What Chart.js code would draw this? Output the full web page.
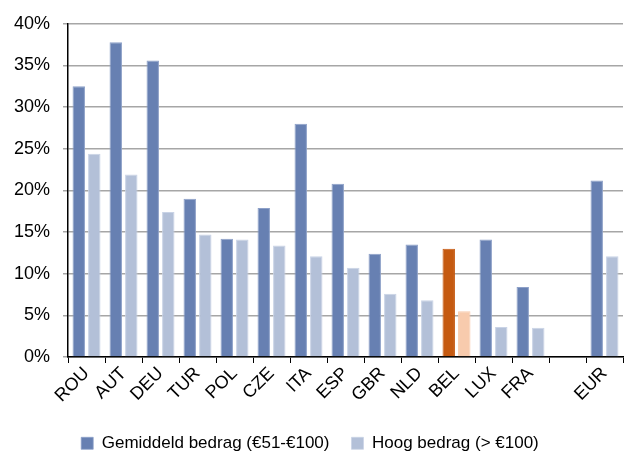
<!DOCTYPE html>
<html>
<head>
<meta charset="utf-8">
<script src="https://cdn.jsdelivr.net/npm/chart.js@4"></script>
<style>
  html, body { margin: 0; padding: 0; background: #fff; }
  #wrap { width: 625px; height: 457px; }
</style>
</head>
<body>
<div id="wrap"><canvas id="chart"></canvas></div>
<script>
const countries = ['ROU', 'AUT', 'DEU', 'TUR', 'POL', 'CZE', 'ITA', 'ESP', 'GBR', 'NLD', 'BEL', 'LUX', 'FRA', '', 'EUR']
const gemiddeld = [32.5, 37.8, 35.6, 19.0, 14.2, 17.9, 28.0, 20.8, 12.4, 13.5, 13.0, 14.1, 8.4, null, 21.2]
const hoog = [24.4, 21.9, 17.4, 14.7, 14.1, 13.4, 12.1, 10.7, 7.6, 6.8, 5.5, 3.6, 3.5, null, 12.1]
const yTicks = [0, 5, 10, 15, 20, 25, 30, 35, 40]

const dark = '#6780B2'
const light = '#B3C0D8'
const highlight = 'BEL'

const colorsFor = (base, accent) => countries.map(c => c == highlight ? accent : base)

const ctx = document.getElementById('chart').getContext('2d')
const tickFont = { family: 'Liberation Sans, Arial, sans-serif', size: 18 }
const legendFont = { family: 'Liberation Sans, Arial, sans-serif', size: 17 }

// plot bottom sits at y=357 in the original, legend row near y=444
const PLOT_BOTTOM = 357
const LEGEND_CENTER = 444

new Chart(ctx, {
  type: 'bar',
  data: {
    labels: countries,
    datasets: [
      {
        label: 'Gemiddeld bedrag (€51-€100)',
        data: gemiddeld,
        backgroundColor: colorsFor(dark, '#C55A11'),
        borderColor: colorsFor('#8DA0C8', '#C55A11'),
        borderWidth: { top: 1, left: 1, right: 1, bottom: 0 },
        categoryPercentage: 0.84,
        barPercentage: 0.8
      },
      {
        label: 'Hoog bedrag (> €100)',
        data: hoog,
        backgroundColor: colorsFor(light, '#F8CBAD'),
        borderColor: colorsFor('#C9D3E6', '#F8CBAD'),
        borderWidth: { top: 1, left: 1, right: 1, bottom: 0 },
        categoryPercentage: 0.84,
        barPercentage: 0.8
      }
    ]
  },
  options: {
    responsive: true,
    maintainAspectRatio: false,
    animation: false,
    layout: { padding: { top: 12, right: 2, left: 1, bottom: 0 } },
    scales: {
      x: {
        offset: true,
        grid: {
          display: true,
          offset: true,
          drawOnChartArea: false,
          drawTicks: true,
          tickLength: 6,
          color: '#000'
        },
        border: { display: true, color: '#000', width: 1.5 },
        ticks: {
          autoSkip: false,
          minRotation: 45,
          maxRotation: 45,
          color: '#000',
          font: tickFont,
          padding: 0
        },
        afterFit: axis => {
          axis.height = 457 - PLOT_BOTTOM - axis.chart.legend.height
        }
      },
      y: {
        min: 0,
        max: 40,
        afterBuildTicks: axis => { axis.ticks = yTicks.map(v => ({ value: v })) },
        grid: {
          color: '#A6A6A6',
          lineWidth: 1.5,
          tickLength: 5
        },
        border: { display: true, color: '#000', width: 1.5 },
        ticks: {
          color: '#000',
          font: tickFont,
          padding: 13,
          callback: v => v + '%'
        }
      }
    },
    plugins: {
      legend: {
        position: 'bottom',
        labels: {
          color: '#000',
          font: legendFont,
          boxWidth: 12,
          boxHeight: 12,
          padding: 22
        }
      },
      tooltip: { enabled: false }
    }
  },
  plugins: [{
    id: 'legendShift',
    afterLayout(chart) {
      const lg = chart.legend
      const rowCenter = lg.top + lg.options.labels.padding + lg.options.labels.font.size * 0.6
      const dy = LEGEND_CENTER - rowCenter + 1
      lg.top += dy
      lg.bottom += dy
      lg.left -= 2
      lg.right -= 2
    }
  }]
})
</script>
</body>
</html>
